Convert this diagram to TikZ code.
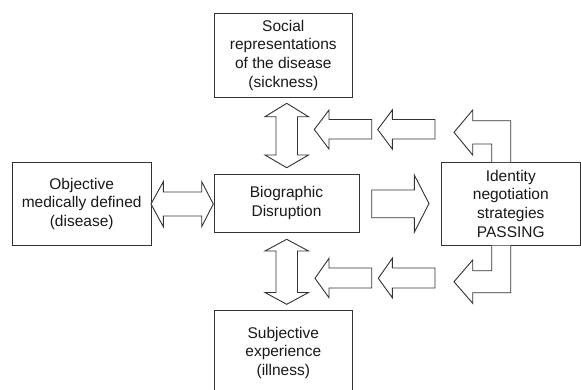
\documentclass[tikz,border=0pt]{standalone}
\usepackage{fontspec}
\setmainfont{Liberation Sans}
\begin{document}
\begin{tikzpicture}[x=1pt,y=-1pt,
  line width=0.9pt, line join=miter,
  box/.style={draw=black!80, inner sep=0pt, align=center, text=black!90,
    font=\fontsize{15.5}{18.7}\selectfont},
  blk/.style={draw=black!80, fill=white}]
\clip (0,0) rectangle (581,389);
\fill[white] (0,0) rectangle (581,389);
% boxes
\node[box, minimum width=138.7pt, minimum height=84pt] (soc) at (283.3,55.3)
  {Social\\representations\\of the disease\\(sickness)};
\node[box, minimum width=138.7pt, minimum height=83.7pt] (obj) at (81.7,203.8)
  {Objective\\medically defined\\(disease)};
\node[box, minimum width=145pt, minimum height=58.3pt] (bio) at (286.5,203.2)
  {Biographic\\Disruption};
\node[box, minimum width=138.3pt, minimum height=83.7pt] (idn) at (510.8,203.8)
  {Identity\\negotiation\\strategies\\PASSING};
\node[box, minimum width=138.7pt, minimum height=84.2pt] (sub) at (283.3,352.8)
  {Subjective\\experience\\(illness)};
% horizontal double arrow obj <-> bio
\draw[blk] (151,204) -- (163.3,181.7) -- (163.3,192) -- (201.7,192) -- (201.7,181.7)
  -- (213.3,204) -- (201.7,226.7) -- (201.7,216) -- (163.3,216) -- (163.3,226.7) -- cycle;
% vertical double arrow soc <-> bio
\draw[blk] (286.7,103.3) -- (308.5,116.7) -- (297.5,116.7) -- (297.5,155) -- (308.5,155)
  -- (286.7,167.7) -- (265,155) -- (276,155) -- (276,116.7) -- (265,116.7) -- cycle;
% vertical double arrow bio <-> sub
\draw[blk] (286.7,239.3) -- (308.5,251) -- (297.5,251) -- (297.5,292.5) -- (308.5,292.5)
  -- (286.7,304.3) -- (265,292.5) -- (276,292.5) -- (276,251) -- (265,251) -- cycle;
% right arrow bio -> idn
\draw[blk] (371.7,190) -- (414.3,190) -- (414.3,175) -- (429,203.5) -- (414.3,232.3)
  -- (414.3,217.7) -- (371.7,217.7) -- cycle;
% top row left arrows
\draw[blk] (314.3,129.5) -- (329,110) -- (329,119.5) -- (371.7,119.5) -- (371.7,139)
  -- (329,139) -- (329,149) -- cycle;
\draw[blk] (377.7,129.5) -- (392.3,110) -- (392.3,119.5) -- (435,119.5) -- (435,139)
  -- (392.3,139) -- (392.3,149) -- cycle;
\draw[blk] (510.7,162) -- (510.7,120.7) -- (472.7,120.7) -- (472.7,110) -- (454,132.3)
  -- (472.7,155) -- (472.7,144) -- (491.7,144) -- (491.7,162);
% bottom row left arrows
\draw[blk] (315,278.3) -- (329,258.3) -- (329,268) -- (371.7,268) -- (371.7,288)
  -- (329,288) -- (329,297.7) -- cycle;
\draw[blk] (378.3,278.3) -- (392.3,258.3) -- (392.3,268) -- (435,268) -- (435,288)
  -- (392.3,288) -- (392.3,297.7) -- cycle;
\draw[blk] (491.7,245.7) -- (491.7,270.7) -- (472.7,270.7) -- (472.7,260) -- (454,281.7)
  -- (472.7,303.3) -- (472.7,292.7) -- (510.7,292.7) -- (510.7,245.7);
\end{tikzpicture}
\end{document}
